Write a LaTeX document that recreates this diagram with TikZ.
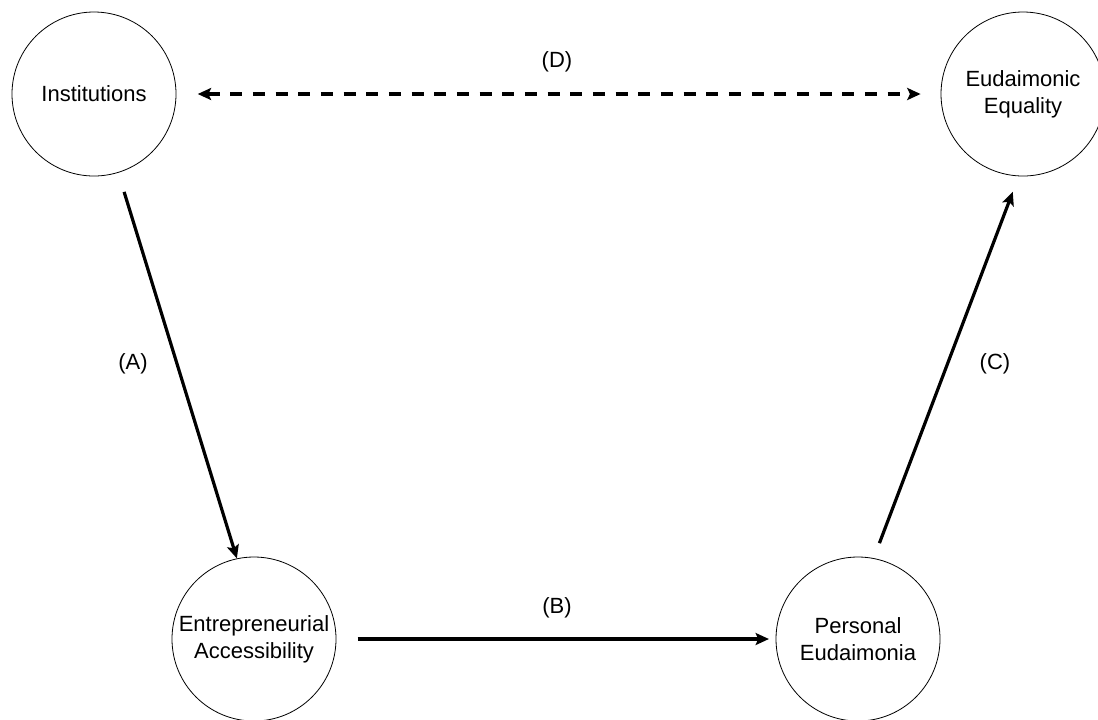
\documentclass[tikz,border=0pt]{standalone}
\usepackage{fontspec}
\setmainfont{Liberation Sans}
\usetikzlibrary{arrows.meta}
\begin{document}
\begin{tikzpicture}[x=0.75pt,y=-0.75pt,
  every node/.style={font=\fontsize{16.5}{20}\selectfont},
  concept/.style={draw,circle,line width=0.6pt,minimum size=123pt,inner sep=0pt,align=center},
  link/.style={line width=2.4pt,-{Stealth[length=10pt,width=9pt,inset=2pt]}}]
\def\tipsize{length=10pt,width=9pt,inset=2pt}
\useasboundingbox (0,0) rectangle (1098,719);

\node[concept] (inst) at (94,94) {Institutions};
\node[concept] (eudeq) at (1023,94) {Eudaimonic\\Equality};
\node[concept] (entacc) at (254,639) {Entrepreneurial\\Accessibility};
\node[concept] (perseu) at (858,639) {Personal\\Eudaimonia};

        \node (lblA) at (133,364) {(A)};
        \node (lblB) at (557,608) {(B)};
        \node (lblC) at (995,364) {(C)};
        \node (lblD) at (557,62) {(D)};

\draw[link, shorten <=15pt] (inst) -- (entacc.102);
\draw[link, shorten <=16pt, shorten >=5pt] (entacc) -- (perseu);
\draw[link, shorten <=12pt, shorten >=12.5pt] (perseu.79) -- (eudeq.-93);
\draw[line width=2.4pt, dash pattern=on 9pt off 8pt, {Stealth[\tipsize]}-{Stealth[\tipsize]},
      shorten <=16pt, shorten >=15pt] (inst) -- (eudeq);
\end{tikzpicture}
\end{document}
